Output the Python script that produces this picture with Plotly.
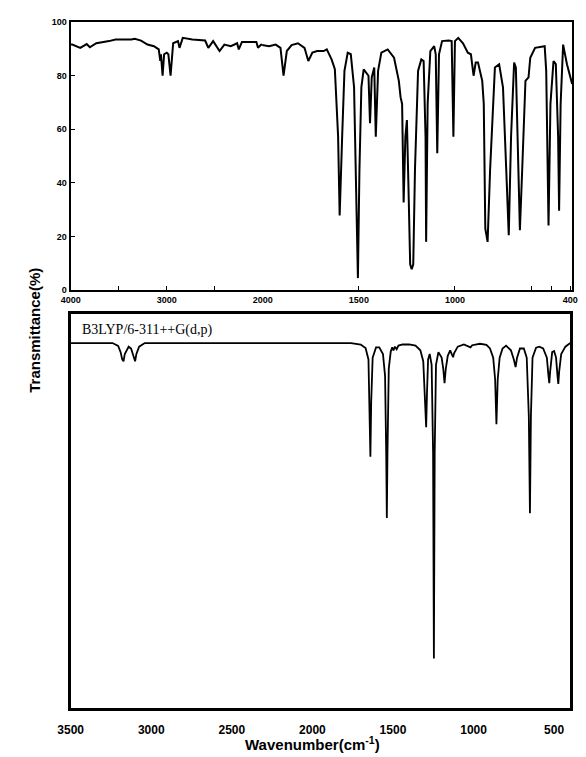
import plotly.graph_objects as go

# ---------------- data ----------------
# Experimental FT-IR spectrum (wavenumber cm-1, transmittance %)
exp_wn = [4000, 3983, 3900, 3833, 3800, 3733, 3600, 3533, 3367, 3333, 3267, 3200, 3133, 3083,
          3067, 3060, 3043, 3027, 3000, 2983, 2960, 2933, 2883, 2867, 2833, 2733, 2600, 2567,
          2517, 2450, 2400, 2333, 2267, 2250, 2217, 2067, 2050, 2017, 2000,
          1967, 1933, 1908, 1892, 1875, 1850, 1817, 1783, 1763, 1742, 1717, 1683, 1667, 1642,
          1625, 1608, 1600, 1587, 1575, 1558, 1542, 1525, 1517, 1505, 1497, 1487, 1475, 1458,
          1450, 1442, 1433, 1420, 1412, 1400, 1383, 1350, 1317, 1292, 1283, 1275, 1267, 1258,
          1250, 1242, 1233, 1225, 1217, 1208, 1192, 1175, 1163, 1153, 1150, 1142, 1128, 1108,
          1100, 1092, 1083, 1067, 1033, 1017, 1008, 1000, 983, 958, 933, 917, 903, 892, 880,
          858, 850, 842, 830, 817, 792, 770, 750, 733, 720, 708, 692, 683, 675, 662, 650, 633,
          617, 608, 583, 533, 525, 513, 503, 487, 475, 463, 458, 450, 437, 417, 390]
exp_T = [91.5, 91.5, 90.3, 91.7, 90.5, 92.0, 92.8, 93.4, 93.4, 93.7, 93.0, 91.5, 90.9, 89.7,
         85.4, 87.9, 79.9, 87.9, 88.5, 87.9, 79.9, 92.0, 92.8, 90.3, 94.0, 93.4, 93.0, 90.3,
         92.8, 89.1, 91.5, 90.9, 92.0, 89.7, 92.5, 92.5, 90.3, 91.5, 91.3,
         90.9, 91.5, 90.3, 79.9, 89.1, 91.3, 92.0, 90.3, 85.4, 88.5, 89.1, 89.1, 89.7, 86.0,
         82.3, 57.2, 27.8, 57.2, 81.7, 88.5, 87.9, 75.6, 44.9, 4.5, 44.9, 75.6, 82.3, 80.5,
         79.9, 62.2, 79.3, 83.0, 57.2, 81.7, 88.5, 89.7, 86.6, 78.0, 71.9, 69.4, 32.7, 57.2,
         63.4, 38.9, 9.6, 7.8, 9.6, 44.9, 81.7, 86.0, 85.4, 57.2, 18.0, 69.4, 89.1, 90.9,
         87.9, 51.0, 87.9, 92.8, 93.0, 92.8, 57.2, 92.8, 94.0, 92.0, 88.5, 87.9, 79.9, 84.8, 84.8,
         78.0, 69.4, 22.9, 18.0, 44.9, 83.0, 84.2, 75.6, 44.9, 20.5, 57.2, 84.8, 83.0, 57.2, 22.3,
         44.9, 78.0, 79.3, 86.6, 90.3, 90.9, 81.7, 24.1, 69.4, 85.4, 84.2, 57.2, 29.6, 69.4,
         91.5, 84.2, 76.8]

# Calculated spectrum B3LYP/6-311++G(d,p) (wavenumber cm-1, relative transmittance)
calc_wn = [3500, 3240, 3205, 3190, 3180, 3172, 3164, 3140, 3125, 3110, 3100, 3092, 3075, 3040,
           1760, 1700, 1670, 1652, 1645, 1640, 1635, 1626, 1605, 1585, 1562, 1549, 1542, 1538,
           1534, 1526, 1514, 1505, 1497, 1488, 1477, 1466, 1440, 1400, 1360, 1330, 1312, 1300,
           1294, 1289, 1282, 1272, 1260, 1251, 1246, 1241, 1233, 1218, 1198, 1188, 1180, 1172,
           1160, 1145, 1133, 1127, 1121, 1098, 1060, 1032, 1019, 1008, 960, 920, 898, 878, 866,
           858, 850, 838, 820, 798, 768, 750, 739, 730, 712, 688, 670, 657, 650, 644, 634, 612,
           592, 568, 545, 535, 530, 525, 512, 500, 488, 479, 474, 469, 456, 430, 400]
calc_T = [100, 100, 99.2, 97.5, 95.5, 95.0, 97.0, 99.0, 98.5, 96.0, 95.0, 97.0, 99.0, 100,
          100, 99.6, 98.6, 95.5, 82.0, 68.8, 84.0, 96.0, 98.8, 98.8, 97.0, 91.0, 70.0, 52.0,
          70.0, 93.0, 97.6, 98.8, 98.0, 99.0, 98.3, 99.3, 99.6, 99.6, 99.3, 98.0, 95.0, 85.0,
          76.9, 86.0, 95.5, 97.0, 94.0, 70.0, 13.5, 70.0, 94.0, 97.5, 96.0, 93.0, 89.0, 93.0,
          96.5, 98.0, 97.0, 96.1, 97.2, 99.0, 99.6, 99.0, 98.8, 99.4, 99.8, 99.5, 98.5, 96.0, 90.0,
          77.7, 90.0, 96.0, 98.5, 99.3, 98.0, 95.5, 93.4, 96.0, 98.5, 98.5, 96.0, 80.0, 53.3, 80.0,
          96.0, 98.7, 99.0, 98.5, 96.0, 91.0, 89.0, 92.0, 97.5, 97.8, 96.0, 91.0, 88.8, 92.0, 97.0,
          99.0, 100]

top_left_ticks = [4000, 3000, 2000]
top_left_minor = [3500, 2500]
top_right_ticks = [1500, 1000, 400]
top_right_minor = [600, 500]
top_y_ticks = [0, 20, 40, 60, 80, 100]
bottom_x_ticks = [3500, 3000, 2500, 2000, 1500, 1000, 500]

# ---------------- layout helpers ----------------
W, H = 586, 757
def px_x(p):
    return p / W
def px_y(p):
    return 1 - p / H

top_y0, top_y1 = 289, 17
bot_y0, bot_y1 = 712, 313
left_px, split_px, right_top_px, right_bot_px = 60, 260, 582, 580

tick_font = dict(family="Liberation Sans", size=9, color="black", weight="bold")
big_tick_font = dict(family="Liberation Sans", size=12, color="black", weight="bold")

fig = go.Figure()
line = dict(color="black", width=2)
fig.add_trace(go.Scatter(x=exp_wn, y=exp_T, mode="lines", line=line, xaxis="x", yaxis="y",
                         showlegend=False, hoverinfo="skip"))
fig.add_trace(go.Scatter(x=exp_wn, y=exp_T, mode="lines", line=line, xaxis="x2", yaxis="y2",
                         showlegend=False, hoverinfo="skip"))
fig.add_trace(go.Scatter(x=calc_wn, y=calc_T, mode="lines", line=dict(color="black", width=1.8),
                         xaxis="x3", yaxis="y3", showlegend=False, hoverinfo="skip"))

common_axis = dict(showgrid=False, zeroline=False, linecolor="black", color="black")
minor_style = dict(ticks="inside", ticklen=4, tickcolor="black", showgrid=False)

fig.update_layout(
    width=W, height=H, autosize=False,
    margin=dict(l=0, r=0, t=0, b=0),
    paper_bgcolor="white", plot_bgcolor="white",
    xaxis=dict(domain=[px_x(left_px), px_x(split_px)], range=[4000, 2000], anchor="y",
               tickvals=top_left_ticks, ticks="inside", ticklen=4,
               minor=dict(tickvals=top_left_minor, **minor_style),
               tickfont=tick_font, showline=True, linewidth=2, mirror=True, **common_axis),
    xaxis2=dict(domain=[px_x(split_px), px_x(right_top_px)], range=[2000, 390], anchor="y2",
                tickvals=top_right_ticks, ticks="inside", ticklen=4,
                minor=dict(tickvals=top_right_minor, **minor_style),
                tickfont=tick_font, showline=True, linewidth=2, mirror=True, **common_axis),
    yaxis=dict(domain=[px_y(top_y0), px_y(top_y1)], range=[0, 100], anchor="x",
               tickvals=top_y_ticks, ticks="inside", ticklen=4, tickfont=tick_font,
               showline=True, linewidth=2, **common_axis),
    yaxis2=dict(domain=[px_y(top_y0), px_y(top_y1)], range=[0, 100], anchor="x2", side="right",
                showticklabels=False, ticks="", showline=True, linewidth=1.5, **common_axis),
    xaxis3=dict(domain=[px_x(left_px), px_x(right_bot_px)], range=[3500, 400], anchor="y3",
                tickvals=bottom_x_ticks, ticks="", tickfont=big_tick_font, ticklabelstandoff=9,
                showline=True, linewidth=2.5, mirror=True, **common_axis),
    yaxis3=dict(domain=[px_y(bot_y0), px_y(bot_y1)], range=[0, 108], anchor="x3",
                showticklabels=False, ticks="", showline=True, linewidth=2.5, mirror=True,
                **common_axis),
)

fig.add_annotation(text="Transmittance(%)", xref="paper", yref="paper",
                   x=px_x(23), y=px_y(330), xanchor="center", yanchor="middle",
                   textangle=-90, showarrow=False,
                   font=dict(family="Liberation Sans", size=15, color="black", weight="bold"))
fig.add_annotation(text="Wavenumber(cm<sup>-1</sup>)", xref="paper", yref="paper",
                   x=px_x(312), y=px_y(748), xanchor="center", yanchor="middle", showarrow=False,
                   font=dict(family="Liberation Sans", size=15, color="black", weight="bold"))
fig.add_annotation(text="B3LYP/6-311++G(d,p)", xref="paper", yref="paper",
                   x=px_x(70), y=px_y(329), xanchor="left", yanchor="middle", showarrow=False,
                   font=dict(family="Liberation Serif", size=14, color="black"))

fig.write_html("out.html", config={"displayModeBar": False},
               post_script="document.body.style.margin='0';document.body.style.overflow='hidden';")
